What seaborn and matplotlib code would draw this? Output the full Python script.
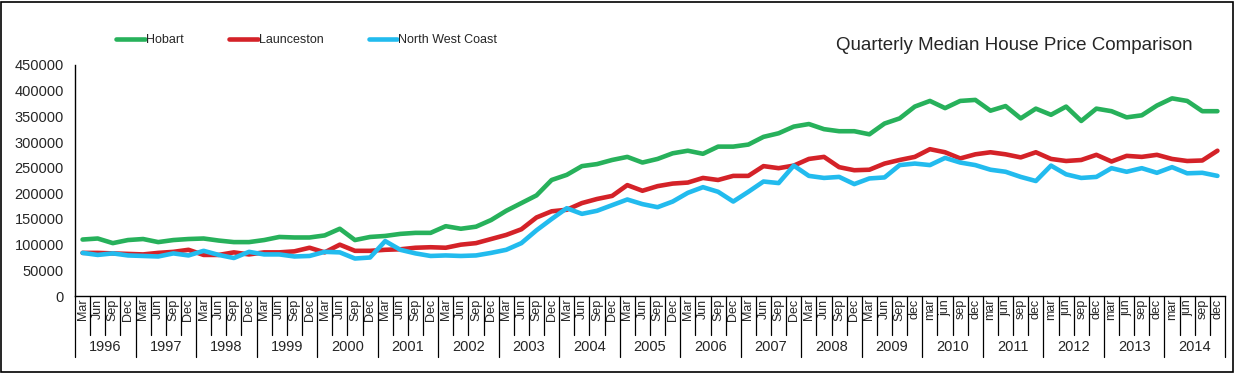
import matplotlib
matplotlib.use("Agg")
import matplotlib.pyplot as plt
from matplotlib.lines import Line2D
from matplotlib.patches import Rectangle
import pandas as pd
import seaborn as sns

years = [str(y) for y in range(1996, 2015)]
months_upper = ["Mar", "Jun", "Sep", "Dec"]
months_lower = ["mar", "jun", "sep", "dec"]
regions = ["Hobart", "Launceston", "North West Coast"]
colors = ["#27b15b", "#d42228", "#22bbee"]

hobart = [110, 112, 103, 109, 111, 105, 109, 111, 112, 108, 105, 105,
          109, 115, 114, 114, 118, 131, 109, 115, 117, 121, 123, 123,
          136, 131, 135, 148, 166, 181, 196, 226, 236, 253, 257, 265,
          271, 260, 267, 278, 283, 277, 291, 291, 295, 310, 317, 330,
          335, 325, 321, 321, 315, 336, 346, 369, 380, 366, 380, 382,
          361, 370, 346, 365, 353, 369, 341, 365, 360, 348, 352, 371,
          385, 380, 360, 360]
launceston = [84, 84, 83, 82, 81, 84, 86, 90, 80, 80, 85, 81,
              85, 85, 87, 94, 85, 100, 88, 88, 90, 91, 94, 95,
              94, 100, 103, 111, 119, 130, 153, 165, 168, 181, 189, 195,
              216, 205, 214, 219, 221, 230, 226, 234, 234, 253, 249, 254,
              267, 271, 251, 245, 246, 258, 265, 271, 286, 280, 268, 276,
              280, 276, 270, 280, 267, 263, 265, 275, 262, 273, 271, 275,
              267, 263, 264, 283]
nwc = [84, 80, 83, 79, 78, 77, 83, 79, 88, 80, 74, 86,
       81, 81, 77, 78, 86, 85, 73, 75, 107, 90, 83, 78,
       79, 78, 79, 84, 90, 103, 128, 150, 171, 160, 166, 177,
       188, 179, 173, 184, 201, 212, 203, 184, 203, 223, 220, 254,
       234, 230, 232, 218, 229, 231, 255, 258, 255, 269, 260, 255,
       246, 242, 232, 224, 254, 237, 230, 232, 249, 242, 249, 240,
       251, 239, 240, 234]

# month labels switch to lower case from dec 2009 onwards
month_labels = []
for y in years:
    for k in range(4):
        if int(y) < 2009 or (y == "2009" and k < 3):
            month_labels.append(months_upper[k])
        else:
            month_labels.append(months_lower[k])

n = len(hobart)
df = pd.DataFrame({
    "idx": list(range(n)) * 3,
    "price": [v * 1000 for v in hobart + launceston + nwc],
    "region": [r for r in regions for _ in range(n)],
})

sns.set_style("white")
plt.rcParams["font.family"] = ["Liberation Sans", "DejaVu Sans"]

fig = plt.figure(figsize=(12.35, 3.74), dpi=100)
ax = fig.add_axes([75 / 1235, 78 / 374, 1150 / 1235, 231 / 374])

sns.lineplot(data=df, x="idx", y="price", hue="region", hue_order=regions,
             palette=colors, linewidth=3.3, legend=False, ax=ax)

ax.set_xlim(-0.5, n - 0.5)
ax.set_ylim(0, 450000)
ax.set_yticks(range(0, 450001, 50000))
ax.set_yticklabels([str(v) for v in range(0, 450001, 50000)], fontsize=10.5)
ax.set_xticks(range(n))
ax.set_xticklabels(month_labels, rotation=90, fontsize=9)
ax.tick_params(axis="x", length=0, pad=2)
ax.tick_params(axis="y", length=5, width=1, direction="out", color="black", pad=3)
ax.set_xlabel("")
ax.set_ylabel("")
for s in ["top", "right"]:
    ax.spines[s].set_visible(False)
for s in ["left", "bottom"]:
    ax.spines[s].set_color("black")
    ax.spines[s].set_linewidth(1)

# separators under the axis
trans = ax.get_xaxis_transform()
for k in range(n + 1):
    depth = -0.264 if k % 4 == 0 else -0.169
    ax.plot([k - 0.5, k - 0.5], [0, depth], color="black", lw=0.9,
            transform=trans, clip_on=False)
for j, y in enumerate(years):
    ax.text(4 * j + 1.5, -0.22, y, transform=trans, ha="center", va="center",
            fontsize=10.5)

handles = [Line2D([], [], color=c, lw=3.3) for c in colors]
fig.legend(handles, regions, loc="center left",
           bbox_to_anchor=(116 / 1235, 1 - 40 / 374), ncol=3, frameon=False,
           fontsize=9, handlelength=2.3, handletextpad=0.1, columnspacing=3.6,
           borderpad=0, borderaxespad=0)

fig.text(836 / 1235, 1 - 46 / 374, "Quarterly Median House Price Comparison",
         ha="left", va="center", fontsize=13.5)

fig.patches.append(Rectangle((1 / 1235, 2 / 374), 1232 / 1235, 370 / 374,
                             transform=fig.transFigure, fill=False,
                             edgecolor="black", lw=1.2))

fig.savefig("out.png", dpi=100)
